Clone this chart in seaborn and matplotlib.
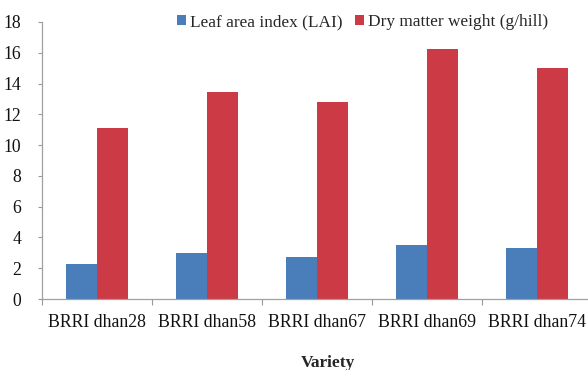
import matplotlib
matplotlib.use("Agg")
import matplotlib.pyplot as plt
import seaborn as sns
import pandas as pd
from matplotlib.patches import Patch

varieties = ["BRRI dhan28", "BRRI dhan58", "BRRI dhan67", "BRRI dhan69", "BRRI dhan74"]
lai = [2.3, 3.0, 2.73, 3.5, 3.34]
dmw = [11.1, 13.43, 12.82, 16.27, 15.0]
series_names = ["Leaf area index (LAI)", "Dry matter weight (g/hill)"]
colors = ["#4A7EBB", "#CB3A45"]

df = pd.DataFrame({
    "Variety": varieties * 2,
    "value": lai + dmw,
    "series": [series_names[0]] * len(varieties) + [series_names[1]] * len(varieties),
})

sns.set_style("white")
plt.rcParams["font.family"] = ["Liberation Serif", "DejaVu Serif"]

fig = plt.figure(figsize=(5.88, 3.70), dpi=100)
W, H = 588, 370
ax = fig.add_axes([42 / W, (H - 299) / H, 550 / W, 277 / H])

sns.barplot(data=df, x="Variety", y="value", hue="series", palette=colors,
            width=0.564, gap=0, saturation=1, ax=ax, legend=False, edgecolor="none")

ax.set_ylim(0, 18)
ax.set_yticks(range(0, 19, 2))
ax.set_xlim(-0.5, len(varieties) - 0.5)
ax.set_xticks([i - 0.5 for i in range(len(varieties) + 1)], minor=False)
ax.set_xticklabels([])
ax.set_xticks(range(len(varieties)), minor=True)
ax.set_xticklabels(varieties, minor=True)
ax.tick_params(axis="x", which="minor", length=0, pad=11, labelsize=12.8, colors="#111111")
ax.tick_params(axis="x", which="major", length=4, width=0.8, color="#999999", direction="out", bottom=True)
ax.tick_params(axis="y", length=3, width=0.8, color="#999999", direction="out", left=True, labelsize=12.7, pad=12, colors="#111111")
ax.set_xlabel("")
ax.set_ylabel("")
for s in ["top", "right"]:
    ax.spines[s].set_visible(False)
for s in ["left", "bottom"]:
    ax.spines[s].set_color("#A0A0A0")
    ax.spines[s].set_linewidth(0.9)

handles = [Patch(facecolor=c, edgecolor="none") for c in colors]
fig.legend(handles, series_names, loc="center left", bbox_to_anchor=(177 / W, 1 - 22 / H),
           ncol=2, frameon=False, fontsize=12.4, handlelength=0.5, handleheight=0.5,
           handletextpad=0.25, columnspacing=0.75, borderaxespad=0, borderpad=0)

fig.text(328 / W, 1 - 363 / H, "Variety", ha="center", va="center", fontsize=12.5, fontweight="bold")

fig.savefig("out.png", dpi=100)
